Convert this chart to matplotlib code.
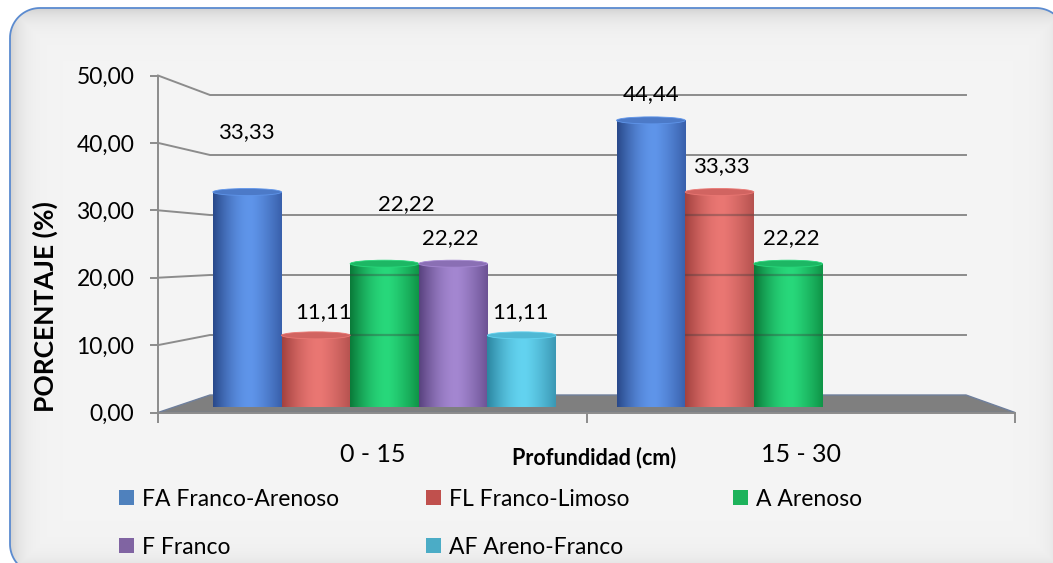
import numpy as np
import matplotlib
matplotlib.use('Agg')
import matplotlib.pyplot as plt
from matplotlib.patches import Rectangle, Ellipse, Polygon
from matplotlib.ticker import FuncFormatter, FixedLocator
from matplotlib.colors import to_rgb

plt.rcParams['font.family'] = ['Lato', 'DejaVu Sans']

# ---------------- data ----------------
categories = ['0 - 15', '15 - 30']
series = ['FA Franco-Arenoso', 'FL Franco-Limoso', 'A Arenoso', 'F Franco', 'AF Areno-Franco']
fa_values = [33.33, 44.44]
fl_values = [11.11, 33.33]
a_values = [22.22, 22.22]
f_values = [22.22, np.nan]
af_values = [11.11, np.nan]
y_ticks = [0, 10, 20, 30, 40, 50]
x_title = 'Profundidad (cm)'
y_title = 'PORCENTAJE (%)'

# ---------------- styles ----------------
legend_colors = ['#4F81BD', '#C0504D', '#1DB35B', '#8064A2', '#4BACC6']
shade = [('#29498a', '#5f95ea', '#3960ab'),
         ('#a3423f', '#ea7773', '#b5524f'),
         ('#0a7a39', '#28d87b', '#0f9447'),
         ('#59427f', '#a487d1', '#6c5294'),
         ('#2c86a1', '#63d3f0', '#3b98b4')]
see_through = [0.0, 0.35, 0.35, 0.0, 0.0]
# label offsets (pixels) of the label digit-centre from the bar top centre
label_offsets = [[(-1, 62), (0, 28)],
                 [(8, 25), (2, 28)],
                 [(22, 62), (3, 28)],
                 [(-3, 28), (0, 0)],
                 [(-1, 25), (0, 0)]]
grid_color = '#8c8c8c'

W, H = 1053, 563
fig = plt.figure(figsize=(W / 100, H / 100), dpi=100)


def rect_px(x0, y_top, x1, y_bot):
    return [x0 / W, 1 - y_bot / H, (x1 - x0) / W, (y_bot - y_top) / H]


# background axes in pixel coordinates
bg = fig.add_axes([0, 0, 1, 1], zorder=-10)
bg.set_xlim(0, W)
bg.set_ylim(H, 0)
bg.set_autoscale_on(False)
bg.axis('off')

bx0, by0, bx1, by1, rad = 10, 8, 1066, 574, 30


def rounded_rect(x0, y0, x1, y1, r, n=24):
    pts = []
    for cx, cy, a0 in [(x0 + r, y0 + r, 180), (x1 - r, y0 + r, 270),
                       (x1 - r, y1 - r, 0), (x0 + r, y1 - r, 90)]:
        a = np.radians(np.linspace(a0, a0 + 90, n))
        pts.extend(zip(cx + r * np.cos(a), cy + r * np.sin(a)))
    return np.array(pts)


yy, xx = np.mgrid[0:H, 0:W] + 0.5
d = np.minimum.reduce([xx - bx0, yy - by0, bx1 - xx, by1 - yy])
d = np.clip(d, 0, None)
val = 0.958 - 0.14 * np.exp(-d / 11.0)
img = np.dstack([val, val, val])
box = Polygon(rounded_rect(bx0, by0, bx1, by1, rad), closed=True,
              facecolor='none', edgecolor='#5b8bd0', linewidth=1.3, zorder=1)
bg.add_patch(box)
im = bg.imshow(img, extent=[0, W, H, 0], interpolation='bilinear', zorder=0, aspect='auto')
im.set_clip_path(box)
bg.set_xlim(0, W)
bg.set_ylim(H, 0)

# back wall axes
axb = fig.add_axes(rect_px(210, 95, 966, 395), zorder=0)
axb.set_xlim(-0.5, 1.5)
axb.set_ylim(0, 50)
axb.axis('off')

# front axes (ticks/labels)
axf = fig.add_axes(rect_px(158, 75.5, 1015, 412.5), zorder=1)
axf.set_xlim(-0.5, 1.5)
axf.set_ylim(0, 50)
axf.patch.set_visible(False)
for s in ['top', 'right']:
    axf.spines[s].set_visible(False)
for s in ['left', 'bottom']:
    axf.spines[s].set_color(grid_color)
    axf.spines[s].set_linewidth(1.4)
axf.yaxis.set_major_locator(FixedLocator(y_ticks))
axf.yaxis.set_major_formatter(FuncFormatter(lambda v, p: f'{v:.2f}'.replace('.', ',')))
axf.tick_params(axis='y', direction='out', length=6, width=1.4, color=grid_color,
                labelsize=16.5, pad=11, labelcolor='black')
axf.xaxis.set_major_locator(FixedLocator([0, 1]))
axf.set_xticklabels(categories)
axf.xaxis.set_minor_locator(FixedLocator([-0.5, 0.5, 1.5]))
axf.tick_params(axis='x', which='major', length=0, labelsize=18, pad=22)
axf.tick_params(axis='x', which='minor', direction='out', length=7, width=1.4, color=grid_color)


def to_axb(src, x, y):
    return axb.transData.inverted().transform(src.transData.transform((x, y)))


# floor
fl_fl = to_axb(axf, -0.5, 0)
fl_fr = to_axb(axf, 1.5, 0)
floor = Polygon([fl_fl, fl_fr, (1.5, 0), (-0.5, 0)], closed=True,
                facecolor='#7f7f7f', edgecolor='#6f7f9c', linewidth=1.0, clip_on=False, zorder=1)
axb.add_patch(floor)

# grid lines with diagonal connectors
for v in y_ticks[1:]:
    p = to_axb(axf, -0.5, v)
    axb.plot([p[0], -0.5, 1.5], [p[1], v, v], color=grid_color, lw=1.4,
             clip_on=False, zorder=2, solid_joinstyle='miter')

# bars axes
ax = fig.add_axes(rect_px(182.6, 84.5, 990.0, 407), zorder=2)
ax.set_xlim(-0.5, 1.5)
ax.set_ylim(0, 50)
ax.axis('off')

all_values = [fa_values, fl_values, a_values, f_values, af_values]
n = len(series)
bw = 0.17
px_per_unit = (407 - 84.5) / 50.0
ell_h = 7.0 / px_per_unit


def gradient(c0, c1, c2, N=96):
    t = np.linspace(0, 1, N)
    a, b, c = np.array(to_rgb(c0)), np.array(to_rgb(c1)), np.array(to_rgb(c2))
    out = np.zeros((N, 3))
    for i, ti in enumerate(t):
        if ti < 0.55:
            s = np.sin(ti / 0.55 * np.pi / 2)
            out[i] = a + (b - a) * s
        else:
            s = (ti - 0.55) / 0.45
            s = s ** 1.3
            out[i] = b + (c - b) * s
    return out[None, :, :]


xs = np.arange(len(categories))
for i, (vals, name) in enumerate(zip(all_values, series)):
    pos = xs + (i - (n - 1) / 2) * bw
    bars = ax.bar(pos, vals, width=bw, color='none', edgecolor='none', zorder=3)
    grad = gradient(*shade[i])
    for j, b in enumerate(bars):
        v = vals[j]
        if np.isnan(v):
            continue
        x0 = b.get_x()
        xc = x0 + bw / 2
        body = Rectangle((x0, 0), bw, v, transform=ax.transData, facecolor='none', edgecolor='none')
        ax.add_patch(body)
        im1 = ax.imshow(grad, extent=[x0, x0 + bw, 0, v], aspect='auto',
                        interpolation='bicubic', zorder=3)
        im1.set_clip_path(body)
        bot = Ellipse((xc, 0), bw, ell_h, transform=ax.transData, facecolor='none', edgecolor='none')
        ax.add_patch(bot)
        im2 = ax.imshow(grad, extent=[x0, x0 + bw, -ell_h / 2, ell_h / 2], aspect='auto',
                        interpolation='bicubic', zorder=3)
        im2.set_clip_path(bot)
        if see_through[i] > 0:
            for gv in y_ticks[1:]:
                ln, = ax.plot([-0.5, 1.5], [gv, gv], transform=axb.transData,
                              color='#3a3a3a', lw=1.6, alpha=see_through[i], zorder=3.5)
                ln.set_clip_path(body)
        topc = np.array(to_rgb(shade[i][0])) * 0.35 + np.array(to_rgb(shade[i][1])) * 0.65
        top = Ellipse((xc, v), bw, ell_h, facecolor=topc, edgecolor=shade[i][1],
                      linewidth=0.6, zorder=4)
        ax.add_patch(top)
        dx, dy = label_offsets[i][j]
        ax.annotate(f'{v:.2f}'.replace('.', ','), xy=(xc, v),
                    xytext=(dx * 0.72, (dy - 8) * 0.72), textcoords='offset points',
                    ha='center', va='baseline', fontsize=16, color='black', zorder=6,
                    annotation_clip=False)

ax.set_xlim(-0.5, 1.5)
ax.set_ylim(0, 50)

# axis titles
fig.text(45 / W, 1 - 307 / H, y_title, rotation=90, ha='center', va='center',
         fontsize=19, fontweight='bold', color='black')
fig.text(594 / W, 1 - 458 / H, x_title, ha='center', va='center',
         fontsize=15.5, fontweight='bold', color='black')

# legend (row-major, 3 columns)
leg_x = [119, 426, 733]
leg_y = [497, 545]
for i, name in enumerate(series):
    r, c = divmod(i, 3)
    x = leg_x[c]
    y = leg_y[r]
    bg.add_patch(Rectangle((x, y - 7.5), 15, 15, facecolor=legend_colors[i],
                           edgecolor='none', zorder=5))
    bg.text(x + 23, y + 8.5, name, ha='left', va='baseline', fontsize=16.5,
            color='black', zorder=5)

fig.savefig('out.png', dpi=100)
